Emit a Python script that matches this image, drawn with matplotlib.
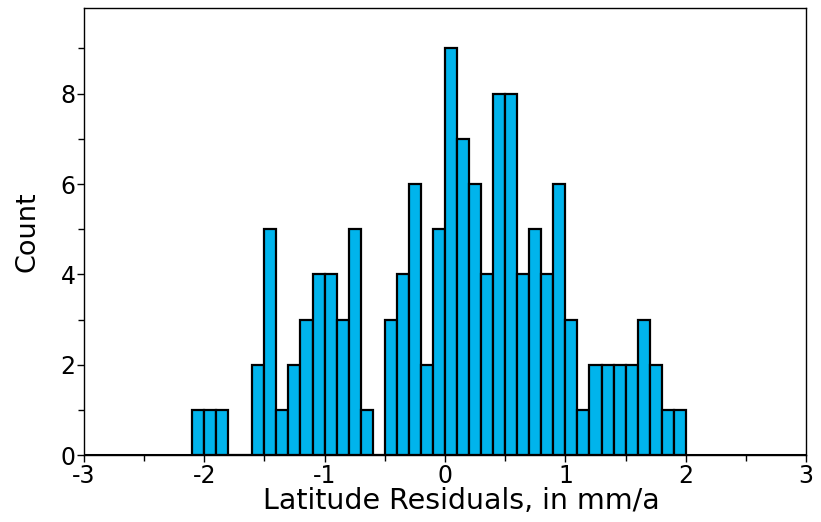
import numpy as np
import matplotlib
matplotlib.use("Agg")
import matplotlib.pyplot as plt

# histogram bins of width 0.1, left edges from -2.1 to 1.9
bin_left = np.round(np.arange(-2.1, 2.0, 0.1), 2)
counts = [1, 1, 1, 0, 0, 2, 5, 1, 2, 3,
          4, 4, 3, 5, 1, 0, 3, 4, 6, 2,
          5, 9, 7, 6, 4, 8, 8, 4, 5, 4,
          6, 3, 1, 2, 2, 2, 2, 3, 2, 1, 1]
bin_left = bin_left[:len(counts)]

plt.rcParams['font.family'] = ['DejaVu Sans']
plt.rcParams['axes.unicode_minus'] = False

fig = plt.figure(figsize=(8.21, 5.22), dpi=100)
ax = fig.add_axes([0.102, 0.128, 0.880, 0.857])

ax.bar(bin_left, counts, width=0.1, align='edge', color='#00b4ec',
       edgecolor='black', linewidth=1.6, zorder=2)
ax.axhline(0, color='black', linewidth=2.2, zorder=3)

ax.set_xlim(-3, 3)
ax.set_ylim(0, 9.9)
ax.set_xticks(np.arange(-3, 4, 1))
ax.set_xticks(np.arange(-2.5, 3, 1), minor=True)
ax.set_yticks(np.arange(0, 10, 2))
ax.set_yticks(np.arange(1, 10, 2), minor=True)
ax.tick_params(which='both', direction='out', top=False, right=False,
               labelsize=17, width=1)
ax.tick_params(which='major', length=5, pad=1)
ax.tick_params(which='minor', length=4)
for s in ax.spines.values():
    s.set_linewidth(1.0)

ax.set_xlabel('Latitude Residuals, in mm/a', fontsize=20.5)
ax.xaxis.set_label_coords(0.522, -0.072)
ax.set_ylabel('Count', fontsize=19.5, labelpad=14)

fig.savefig('out.png', dpi=100)
